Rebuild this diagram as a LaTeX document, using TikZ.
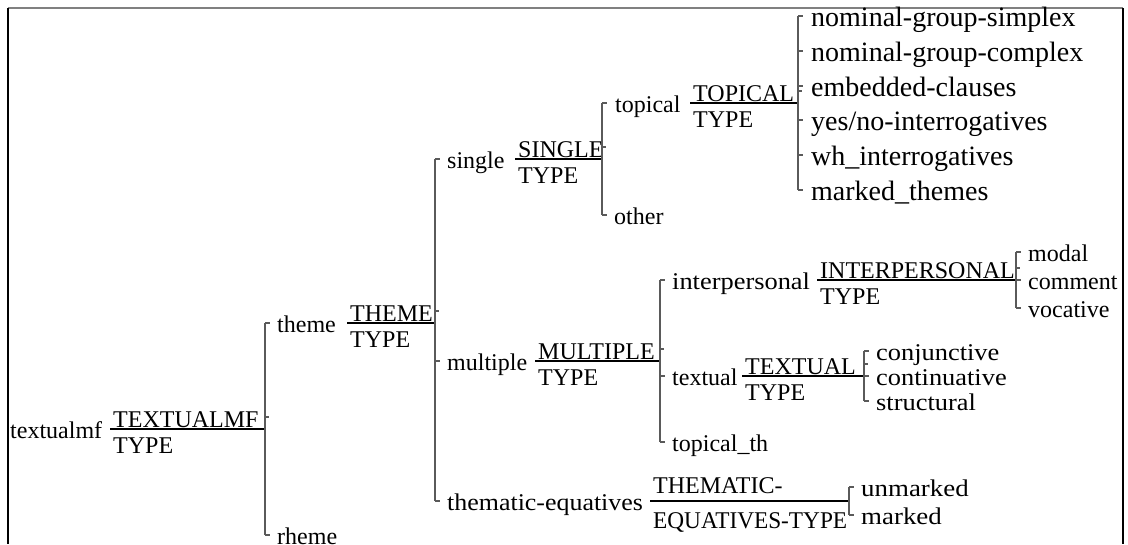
\documentclass[tikz,border=0pt]{standalone}
\usepackage{fontspec}
\setmainfont{Liberation Serif}
\newfontfamily\tms{Liberation Serif}
\newcommand\fs{\tms\fontsize{24}{28}\selectfont}
\newcommand\fsb{\tms\fontsize{28}{32}\selectfont}
\definecolor{brgray}{HTML}{5A5A5A}
\definecolor{topgray}{HTML}{808080}
% system: name, label x, y, label, frac x, numerator, denominator, bracket x
\newcommand\mysys[8]{%
  \node[lbl] (#1) at (#2,#3+9) {#4};
  \node[lbl] (#1N) at (#5,#3-1.5) {#6};
  \node[lbl] (#1D) at (#5,#3+24) {#7};
  \coordinate (#1s) at (#5-3,#3);
  \coordinate (#1e) at (#8,#3);
  \draw[bar] (#1s) -- (#1e);
  \draw[brk] (#8,#3-12) -- ++(4,0);
}
% leaf: name, bracket x, y, text
\newcommand\myleaf[4]{%
  \coordinate (#1t) at (#2,#3);
  \draw[brk] (#1t) -- ++(5,0);
  \node[lbl] (#1) at (#2+12,#3+9) {#4};
}
\newcommand\bigleaf[4]{%
  \coordinate (#1t) at (#2,#3);
  \draw[brk] (#1t) -- ++(5,0);
  \node[lbl,font=\fsb] (#1) at (#2+13,#3+10) {#4};
}
\begin{document}
\begin{tikzpicture}[x=1pt,y=-1pt,
  lbl/.style={anchor=base west,inner sep=0pt,font=\fs},
  brk/.style={draw=brgray,line width=1.3pt},
  bar/.style={draw=black,line width=1.2pt}]
\useasboundingbox (0,0) rectangle (1128,544);
% frame
\draw[topgray,line width=1.8pt] (8,8) -- (1123,8);
\draw[black,line width=1.5pt] (8,8) -- (8,544);
\draw[black,line width=1.5pt] (1123,8) -- (1123,544);

% root
\node[lbl] (textualmf) at (10,438) {textualmf};
\node[lbl] (rootN) at (113,427.5) {TEXTUALMF};
\node[lbl] (rootD) at (113,453) {TYPE};
\coordinate (roots) at (110,429);
\coordinate (roote) at (265,429);
\draw[bar] (roots) -- (roote);
\draw[brk] (265,417) -- ++(4,0);
\draw[brk] (265,323) -- (265,535);

% level 1
\myleaf{thm}{265}{323}{}
\mysys{theme}{277}{323}{theme}{350}{THEME}{TYPE}{435}
\myleaf{rheme}{265}{535}{rheme}
\draw[brk] (435,159) -- (435,501);

% level 2 under theme
\myleaf{sgl}{435}{159}{}
\mysys{single}{447}{159}{single}{518}{SINGLE}{TYPE}{602}
\myleaf{mlt}{435}{361}{}
\mysys{multiple}{447}{361}{multiple}{538}{MULTIPLE}{TYPE}{660}
\myleaf{teq}{435}{501}{}
\node[lbl] (thematic) at (447,510) {\scalebox{1.08}[1]{thematic-equatives}};
\node[lbl] (thematicN) at (653,493) {THEMATIC-};
\node[lbl] (thematicD) at (653,528) {\scalebox{0.97}[1]{EQUATIVES-TYPE}};
\coordinate (thematics) at (650,501);
\coordinate (thematice) at (849,501);
\draw[bar] (thematics) -- (thematice);
\draw[brk] (849,487) -- (849,515);
\myleaf{unmarked}{849}{487}{\scalebox{1.12}[1]{unmarked}}
\myleaf{marked}{849}{515}{\scalebox{1.12}[1]{marked}}

% under single
\draw[brk] (602,103) -- (602,215);
\myleaf{tpc}{602}{103}{}
\mysys{topical}{615}{103}{topical}{693}{TOPICAL}{TYPE}{798}
\myleaf{other}{602}{215}{other}

% under topical
\draw[brk] (798,16) -- (798,190);
\bigleaf{ngs}{798}{16}{nominal-group-simplex}
\bigleaf{ngc}{798}{51}{nominal-group-complex}
\bigleaf{emb}{798}{86}{embedded-clauses}
\bigleaf{yn}{798}{120}{yes/no-interrogatives}
\bigleaf{wh}{798}{155}{wh\_interrogatives}
\bigleaf{mth}{798}{190}{marked\_themes}

% under multiple
\draw[brk] (660,280) -- (660,442);
\myleaf{ipl}{660}{280}{}
\mysys{interpersonal}{672}{280}{\scalebox{1.1}[1]{interpersonal}}{820}{INTERPERSONAL}{TYPE}{1016}
\myleaf{txl}{660}{376}{}
\mysys{textual}{672}{376}{textual}{745}{TEXTUAL}{TYPE}{864}
\myleaf{topicalth}{660}{442}{topical\_th}

% under interpersonal
\draw[brk] (1016,252) -- (1016,308);
\myleaf{modal}{1016}{252}{modal}
\myleaf{comment}{1016}{280}{comment}
\myleaf{vocative}{1016}{308}{vocative}

% under textual
\draw[brk] (864,351) -- (864,401);
\myleaf{conj}{864}{351}{\scalebox{1.1}[1]{conjunctive}}
\myleaf{cont}{864}{376}{\scalebox{1.1}[1]{continuative}}
\myleaf{struc}{864}{401}{\scalebox{1.1}[1]{structural}}
\end{tikzpicture}
\end{document}
